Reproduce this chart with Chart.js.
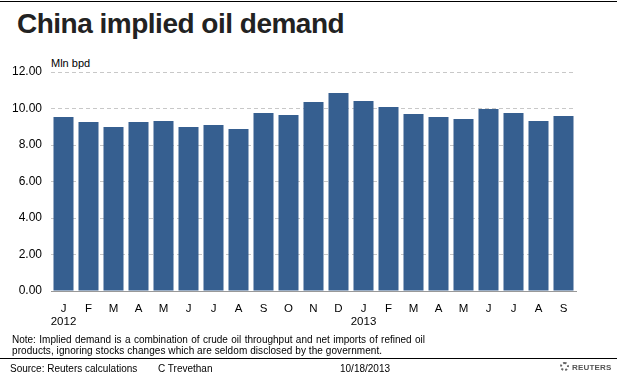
<!DOCTYPE html>
<html>
<head>
<meta charset="utf-8">
<script src="https://cdn.jsdelivr.net/npm/chart.js@4/dist/chart.umd.min.js"></script>
<style>
  html, body { margin:0; padding:0; background:#fff; }
  body { width:617px; height:379px; position:relative; overflow:hidden; font-family:"Liberation Sans", Arial, sans-serif; color:#000; }
  #c { position:absolute; left:0; top:0; }
  .abs { position:absolute; white-space:nowrap; }
  #topline { position:absolute; left:0; top:1px; width:617px; height:1px; background:#000; }
  #footline { position:absolute; left:0; top:358px; width:617px; height:1px; background:#000; }
  #title { left:17px; top:7px; font-size:28px; font-weight:bold; color:#222; letter-spacing:-0.5px; line-height:34px; }
  #unit { left:51px; top:56px; font-size:11px; line-height:14px; }
  .note { left:12px; font-size:10px; line-height:12px; color:#000; }
  #note1 { top:334px; width:413px; text-align:justify; text-align-last:justify; }
  #note2 { top:345px; letter-spacing:0.07px; }
  .foot { top:363px; font-size:10px; line-height:12px; color:#000; }
  #logo { left:560px; top:362px; font-size:8px; font-weight:bold; color:#555; line-height:12px; letter-spacing:0.2px; }
  #logo span.ic { display:inline-block; width:9px; height:9px; border-radius:50%; border:2px dotted #666; box-sizing:border-box; vertical-align:-1px; margin-right:3px; }
</style>
</head>
<body>
<div id="topline"></div>
<div id="title" class="abs">China implied oil demand</div>
<div id="unit" class="abs">Mln bpd</div>
<canvas id="c" width="617" height="379"></canvas>
<div id="note1" class="abs note">Note: Implied demand is a combination of crude oil throughput and net imports of refined oil</div>
<div id="note2" class="abs note">products, ignoring stocks changes which are seldom disclosed by the government.</div>
<div id="footline"></div>
<div class="abs foot" style="left:10px">Source: Reuters calculations</div>
<div class="abs foot" style="left:158px">C Trevethan</div>
<div class="abs foot" style="left:340px">10/18/2013</div>
<div id="logo" class="abs"><span class="ic"></span>REUTERS</div>
<script>
const months = ['J','F','M','A','M','J','J','A','S','O','N','D','J','F','M','A','M','J','J','A','S'];
const yearLabels = {0:'2012', 12:'2013'};
const demand = [9.53, 9.26, 8.99, 9.26, 9.32, 8.99, 9.10, 8.88, 9.75, 9.64, 10.36, 10.85,
                10.41, 10.08, 9.70, 9.53, 9.42, 9.97, 9.75, 9.32, 9.59];
const yTicks = [0, 2, 4, 6, 8, 10, 12];

const labels = months.map((m, i) => yearLabels[i] ? [m, yearLabels[i]] : [m]);

new Chart(document.getElementById('c'), {
  type: 'bar',
  data: {
    labels: labels,
    datasets: [{
      data: demand,
      backgroundColor: '#365F90',
      borderWidth: 0,
      categoryPercentage: 0.8,
      barPercentage: 1.0
    }]
  },
  options: {
    responsive: false,
    animation: false,
    devicePixelRatio: 1,
    plugins: { legend: { display: false }, tooltip: { enabled: false } },
    layout: { padding: { left: 0, right: 41, top: 72, bottom: 0 } },
    scales: {
      x: {
        grid: { display: false },
        border: { display: true, color: '#999', width: 1 },
        ticks: {
          autoSkip: false, maxRotation: 0, minRotation: 0, padding: 3,
          color: '#000', font: { family: 'Liberation Sans, Arial, sans-serif', size: 11.5, lineHeight: 1.15 }
        },
        afterFit: (s) => { s.height = 88; }
      },
      y: {
        min: 0, max: 12,
        afterBuildTicks: (s) => { s.ticks = yTicks.map(v => ({ value: v })); },
        grid: {
          drawTicks: false,
          color: (ctx) => ctx.tick && ctx.tick.value === 0 ? 'rgba(0,0,0,0)' : '#C8C8C8',
          lineWidth: 1
        },
        border: { display: false, dash: [4, 3] },
        ticks: {
          padding: 9, color: '#000',
          font: { family: 'Liberation Sans, Arial, sans-serif', size: 12 },
          callback: (v) => Number(v).toFixed(2)
        },
        afterFit: (s) => { s.width = 51; }
      }
    }
  }
});
</script>
</body>
</html>
